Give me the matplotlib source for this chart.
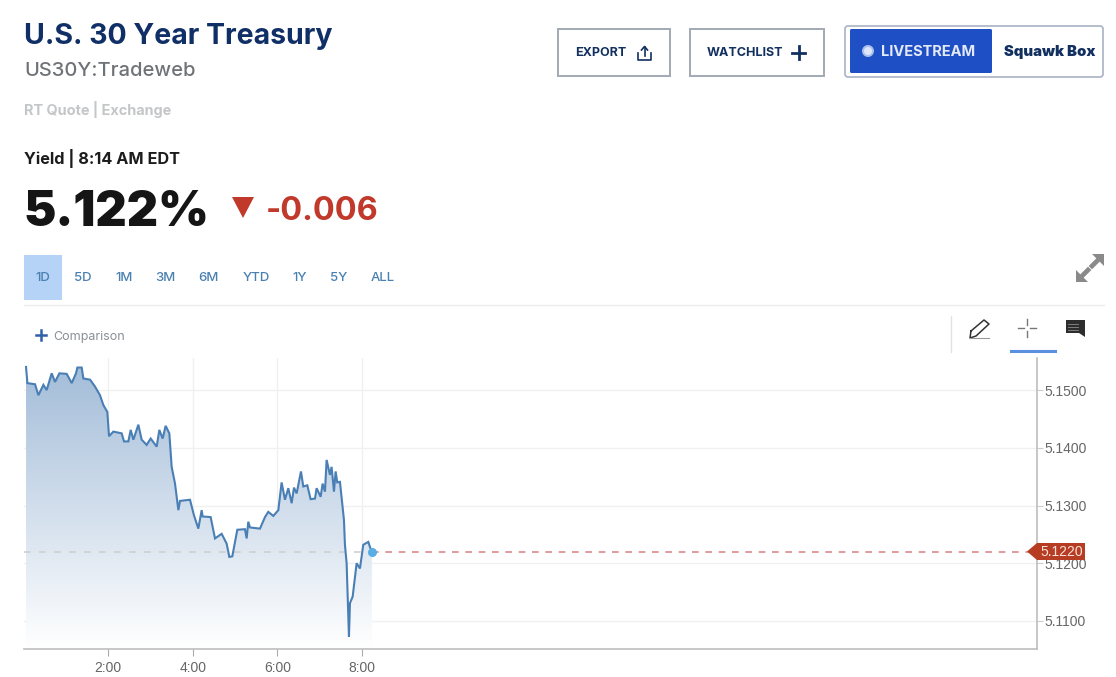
import numpy as np
import matplotlib
matplotlib.use('Agg')
import matplotlib.pyplot as plt
from matplotlib.patches import Rectangle, FancyBboxPatch, Polygon, Circle

plt.rcParams['font.family'] = ['Inter', 'Lato', 'DejaVu Sans']
TICK_FONT = ['Liberation Sans', 'DejaVu Sans']

# hours since midnight, yield in percent
hours = [0.063, 0.095, 0.276, 0.355, 0.473, 0.551, 0.669, 0.748, 0.851, 1.024, 1.142, 1.244,
         1.276, 1.378, 1.418, 1.575, 1.693, 1.811, 1.890, 1.984, 2.024, 2.126, 2.323, 2.378,
         2.480, 2.536, 2.599, 2.717, 2.795, 2.913, 3.008, 3.150, 3.213, 3.291, 3.362, 3.449,
         3.504, 3.583, 3.662, 3.701, 3.937, 4.031, 4.134, 4.213, 4.236, 4.425, 4.528, 4.685,
         4.803, 4.866, 4.937, 5.055, 5.236, 5.276, 5.315, 5.354, 5.591, 5.709, 5.787, 5.906,
         6.024, 6.102, 6.181, 6.260, 6.339, 6.394, 6.457, 6.559, 6.614, 6.709, 6.787, 6.890,
         6.929, 7.024, 7.071, 7.126, 7.165, 7.244, 7.283, 7.339, 7.378, 7.417, 7.480, 7.575,
         7.598, 7.638, 7.693, 7.717, 7.780, 7.874, 7.953, 8.031, 8.150, 8.190, 8.233]
yields = [5.1540, 5.1512, 5.1510, 5.1491, 5.1509, 5.1500, 5.1529, 5.1514, 5.1529, 5.1528, 5.1512, 5.1529,
          5.1539, 5.1539, 5.1520, 5.1518, 5.1506, 5.1491, 5.1474, 5.1462, 5.1420, 5.1428, 5.1425, 5.1411,
          5.1411, 5.1431, 5.1414, 5.1440, 5.1414, 5.1405, 5.1416, 5.1402, 5.1431, 5.1416, 5.1438, 5.1425,
          5.1367, 5.1338, 5.1292, 5.1308, 5.1310, 5.1283, 5.1260, 5.1292, 5.1281, 5.1280, 5.1243, 5.1251,
          5.1234, 5.1211, 5.1212, 5.1258, 5.1259, 5.1243, 5.1272, 5.1262, 5.1260, 5.1280, 5.1289, 5.1282,
          5.1292, 5.1340, 5.1310, 5.1330, 5.1304, 5.1331, 5.1321, 5.1359, 5.1333, 5.1335, 5.1311, 5.1312,
          5.1330, 5.1315, 5.1338, 5.1324, 5.1379, 5.1353, 5.1367, 5.1324, 5.1359, 5.1340, 5.1341, 5.1275,
          5.1232, 5.1200, 5.1073, 5.1131, 5.1142, 5.1200, 5.1191, 5.1232, 5.1237, 5.1228, 5.1220]
last_yield = 5.1220
x_ticks = [2, 4, 6, 8]
x_labels = ['2:00', '4:00', '6:00', '8:00']
y_ticks = [5.11, 5.12, 5.13, 5.14, 5.15]
ranges = ['1D', '5D', '1M', '3M', '6M', 'YTD', '1Y', '5Y', 'ALL']
range_px = [43, 83, 124, 165, 208, 256, 300, 339, 383]

W, H = 1116, 677
NAVY = '#12305f'
RED = '#c0392b'
fig = plt.figure(figsize=(W / 100, H / 100), dpi=100)

# page furniture drawn in pixel coordinates
ui = fig.add_axes([0, 0, 1, 1])
ui.set_xlim(0, W)
ui.set_ylim(H, 0)
ui.axis('off')

ui.text(24, 37, 'U.S. 30 Year Treasury', fontsize=20.5, fontweight='bold', color='#0f2f66', va='center')
ui.text(24, 71, 'US30Y:Tradeweb', fontsize=14.5, color='#6f7377', va='center', fontweight='medium')
ui.text(24, 110, 'RT Quote | Exchange', fontsize=10.4, color='#c4c6c8', va='center', fontweight='bold')
ui.text(24, 159, 'Yield | 8:14 AM EDT', fontsize=11.7, color='#1c1c1c', va='center', fontweight='bold')
ui.text(24, 213, '5.122%', fontsize=35, color='#151515', va='center', fontweight='black')
ui.add_patch(Polygon([(232, 197), (254, 197), (243, 218)], color=RED, lw=0))
ui.text(266, 211, '-0.006', fontsize=23.3, color=RED, va='center', fontweight='bold')

# buttons
ui.add_patch(Rectangle((557.5, 29), 112, 47, fc='white', ec='#a3a9b2', lw=1.4))
ui.text(575, 53, 'EXPORT', fontsize=9, color=NAVY, va='center', fontweight='bold')
ui.plot([638, 638, 651, 651], [53, 60, 60, 53], color=NAVY, lw=1.2)
ui.plot([644.5, 644.5], [47, 56], color=NAVY, lw=1.2)
ui.plot([641.5, 644.5, 647.5], [50, 46.5, 50], color=NAVY, lw=1.2)
ui.add_patch(Rectangle((689.5, 29), 134, 47, fc='white', ec='#a3a9b2', lw=1.4))
ui.text(707, 53, 'WATCHLIST', fontsize=9, color=NAVY, va='center', fontweight='bold')
ui.plot([792, 805], [52.5, 52.5], color=NAVY, lw=2)
ui.plot([798.5, 798.5], [46, 59], color=NAVY, lw=2)
ui.add_patch(FancyBboxPatch((845, 26), 258, 51, boxstyle='round,pad=0,rounding_size=3',
                            fc='white', ec='#a9b2c4', lw=1.2))
ui.add_patch(FancyBboxPatch((850, 29), 142, 44, boxstyle='round,pad=0,rounding_size=1.5',
                            fc='#1f4fc4', ec='none'))
ui.add_patch(Circle((868, 51), 6, fc='#a9bdee', ec='none'))
ui.add_patch(Circle((868, 51), 4, fc='#dfe6f8', ec='none'))
ui.text(881, 52, 'LIVESTREAM', fontsize=10.5, color='#e3e9f8', va='center', fontweight='bold')
ui.text(1004, 52, 'Squawk Box', fontsize=10.7, color=NAVY, va='center', fontweight='black')

# range selector
ui.add_patch(Rectangle((24, 255), 38, 45, fc='#b5d2f7', ec='none'))
for label, px in zip(ranges, range_px):
    ui.text(px, 278, label, fontsize=9.5, color='#4a80b0', ha='center', va='center', fontweight='medium')
ui.plot([24, 1104], [305, 305], color='#ececec', lw=1)
ui.plot([36, 46], [335, 335], color='#2f5fa8', lw=1.8)
ui.plot([41, 41], [330, 340], color='#2f5fa8', lw=1.8)
ui.text(53, 337, 'Comparison', fontsize=9, color='#8a8f94', va='center')

# expand arrows, two short ones with a gap between
ui.plot([1080, 1088], [278, 270], color='#8a8a8a', lw=3.4)
ui.plot([1092, 1100], [266, 258], color='#8a8a8a', lw=3.4)
ui.add_patch(Polygon([(1076, 282), (1076, 270), (1088, 282)], color='#8a8a8a', lw=0))
ui.add_patch(Polygon([(1104, 254), (1104, 266), (1092, 254)], color='#8a8a8a', lw=0))

# toolbar
ui.plot([951, 951], [316, 352], color='#e2e2e2', lw=1)
ui.plot([971, 984, 989, 976, 970, 971], [331, 320, 324, 336, 338, 331], color='#333333', lw=1.1)
ui.plot([970, 989], [338, 338], color='#999999', lw=0.8)
ui.plot([1018, 1024], [328, 328], color='#777777', lw=1)
ui.plot([1030, 1036], [328, 328], color='#777777', lw=1)
ui.plot([1027, 1027], [319, 325], color='#777777', lw=1)
ui.plot([1027, 1027], [331, 337], color='#777777', lw=1)
ui.plot([1011, 1055], [351, 351], color='#5b8fe0', lw=2.2)
ui.add_patch(Rectangle((1066, 320), 19, 13, fc='#2d2d2d', ec='none'))
ui.add_patch(Polygon([(1079, 333), (1085, 333), (1085, 337)], color='#2d2d2d', lw=0))
for py in (324, 327, 330):
    ui.plot([1068, 1078], [py, py], color='#8c8c8c', lw=0.6)

# the chart itself
ax = fig.add_axes([24 / W, 1 - 649 / H, (1037 - 24) / W, (649 - 358) / H])
ax.patch.set_alpha(0)
ax.set_xlim(0.015, 23.95)
ax.set_ylim(5.10515, 5.15555)
for side in ('top', 'left'):
    ax.spines[side].set_visible(False)
for side in ('bottom', 'right'):
    ax.spines[side].set_color('#bdbdbd')
    ax.spines[side].set_linewidth(1.2)
ax.yaxis.tick_right()
ax.set_xticks(x_ticks, x_labels, family=TICK_FONT)
ax.set_yticks(y_ticks, ['%.4f' % v for v in y_ticks], family=TICK_FONT)
ax.tick_params(axis='x', length=5, color='#aaaaaa', labelsize=10, labelcolor='#666666', pad=4)
ax.tick_params(axis='y', length=4, color='#cccccc', labelsize=10, labelcolor='#666666', pad=1)
ax.grid(color='#f0f0f0', lw=1)
ax.set_axisbelow(True)

# gradient under the line, clipped to the area
area = ax.fill_between(hours, yields, ax.get_ylim()[0], color='none')
grad = np.linspace(0, 1, 256)[:, None, None]
top_c = np.array([0.64, 0.74, 0.85])
rgb = top_c + (np.array([1.0, 1.0, 1.0]) - top_c) * grad
alpha = np.ones_like(grad)
img = ax.imshow(np.dstack([rgb, alpha]), aspect='auto', zorder=1,
                extent=[hours[0], hours[-1], ax.get_ylim()[0], max(yields)], origin='upper')
img.set_clip_path(area.get_paths()[0], transform=ax.transData)
ax.set_xlim(0.015, 23.95)
ax.set_ylim(5.10515, 5.15555)

ax.plot(hours, yields, color='#4a7fb5', lw=1.5, zorder=3, solid_joinstyle='miter')
ax.plot([0.015, hours[-1]], [last_yield, last_yield], color='#cfcfcf', lw=1.2, ls=(0, (4, 5)), zorder=2)
ax.plot([hours[-1], 23.95], [last_yield, last_yield], color='#d98a8a', lw=1.2, ls=(0, (4, 4)), zorder=2)
ax.plot(hours[-1], last_yield, 'o', color='#5aaee8', ms=5.5, zorder=4)

# price tag on top of the tick labels
ui.set_zorder(0)
ax.set_zorder(1)
tag = fig.add_axes([0, 0, 1, 1], zorder=2)
tag.set_xlim(0, W)
tag.set_ylim(H, 0)
tag.axis('off')
tag.add_patch(Polygon([(1027, 551.5), (1037, 543), (1085, 543), (1085, 560), (1037, 560)],
                      fc='#b63d24', ec='none'))
tag.text(1040, 552, '%.4f' % last_yield, fontsize=10, color='#fbe3da', va='center', family=TICK_FONT)

fig.savefig('out.png', dpi=100)
